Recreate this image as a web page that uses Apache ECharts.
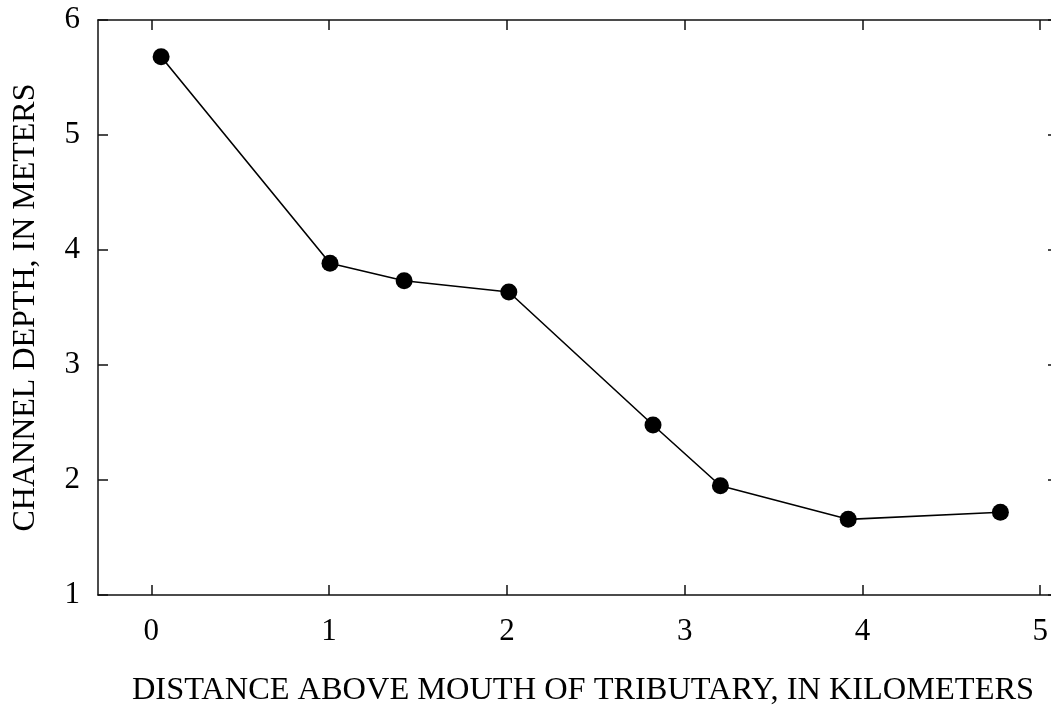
<!DOCTYPE html>
<html>
<head>
<meta charset="utf-8">
<script src="https://cdn.jsdelivr.net/npm/echarts@6/dist/echarts.min.js"></script>
<style>
html,body{margin:0;padding:0;background:#fff;}
#chart{width:1051px;height:707px;}
</style>
</head>
<body>
<div id="chart"></div>
<script>
const distanceKm = [0.055, 1.005, 1.422, 2.011, 2.822, 3.201, 3.920, 4.776];
const depthM = [5.68, 3.884, 3.733, 3.635, 2.478, 1.950, 1.658, 1.719];
const xTicks = [0, 1, 2, 3, 4, 5];
const yTicks = [1, 2, 3, 4, 5, 6];
const xTitle = 'DISTANCE ABOVE MOUTH OF TRIBUTARY, IN KILOMETERS';
const yTitle = 'CHANNEL DEPTH, IN METERS';

const font = 'Liberation Serif';
const axisColor = '#111';

const chart = echarts.init(document.getElementById('chart'), null, {renderer: 'canvas'});
const baseX = {
  type: 'value', min: -0.3, max: 5.1,
  axisLine: {show: true, onZero: false, lineStyle: {color: axisColor, width: 1.5}},
  splitLine: {show: false}
};
const baseY = {
  type: 'value', min: 1, max: 6,
  axisLine: {show: true, onZero: false, lineStyle: {color: axisColor, width: 1.5}},
  splitLine: {show: false}
};
chart.setOption({
  animation: false,
  backgroundColor: '#fff',
  grid: {left: 98, top: 20, right: -7, bottom: 112, containLabel: false, outerBoundsMode: 'none'},
  xAxis: [
    Object.assign({}, baseX, {
      position: 'bottom',
      name: xTitle, nameLocation: 'middle', nameGap: 79,
      nameTextStyle: {fontFamily: font, fontSize: 32.4, color: '#000', padding: [0, 0, 0, 10]},
      axisTick: {show: true, inside: true, length: 10, lineStyle: {color: axisColor, width: 1.5}, customValues: xTicks},
      axisLabel: {show: true, margin: 21, fontFamily: font, fontSize: 31, color: '#000', customValues: xTicks}
    }),
    Object.assign({}, baseX, {
      position: 'top',
      axisTick: {show: true, inside: true, length: 10, lineStyle: {color: axisColor, width: 1.5}, customValues: xTicks},
      axisLabel: {show: false}
    })
  ],
  yAxis: [
    Object.assign({}, baseY, {
      position: 'left',
      name: yTitle, nameLocation: 'middle', nameGap: 56, nameRotate: 90,
      nameTextStyle: {fontFamily: font, fontSize: 32, color: '#000'},
      axisTick: {show: true, inside: true, length: 10, lineStyle: {color: axisColor, width: 1.5}, customValues: yTicks},
      axisLabel: {show: true, margin: 18, fontFamily: font, fontSize: 31, color: '#000', padding: [6, 0, 0, 0], customValues: yTicks}
    }),
    Object.assign({}, baseY, {
      position: 'right',
      axisLine: {show: false, onZero: false},
      axisTick: {show: true, inside: true, length: 10, lineStyle: {color: axisColor, width: 1.5}, customValues: yTicks},
      axisLabel: {show: false}
    })
  ],
  series: [{
    type: 'line',
    xAxisIndex: 0, yAxisIndex: 0,
    data: distanceKm.map((d, i) => [d, depthM[i]]),
    symbol: 'circle', symbolSize: 17,
    lineStyle: {color: '#000', width: 1.6},
    itemStyle: {color: '#000'},
    z: 5
  }]
});
</script>
</body>
</html>
